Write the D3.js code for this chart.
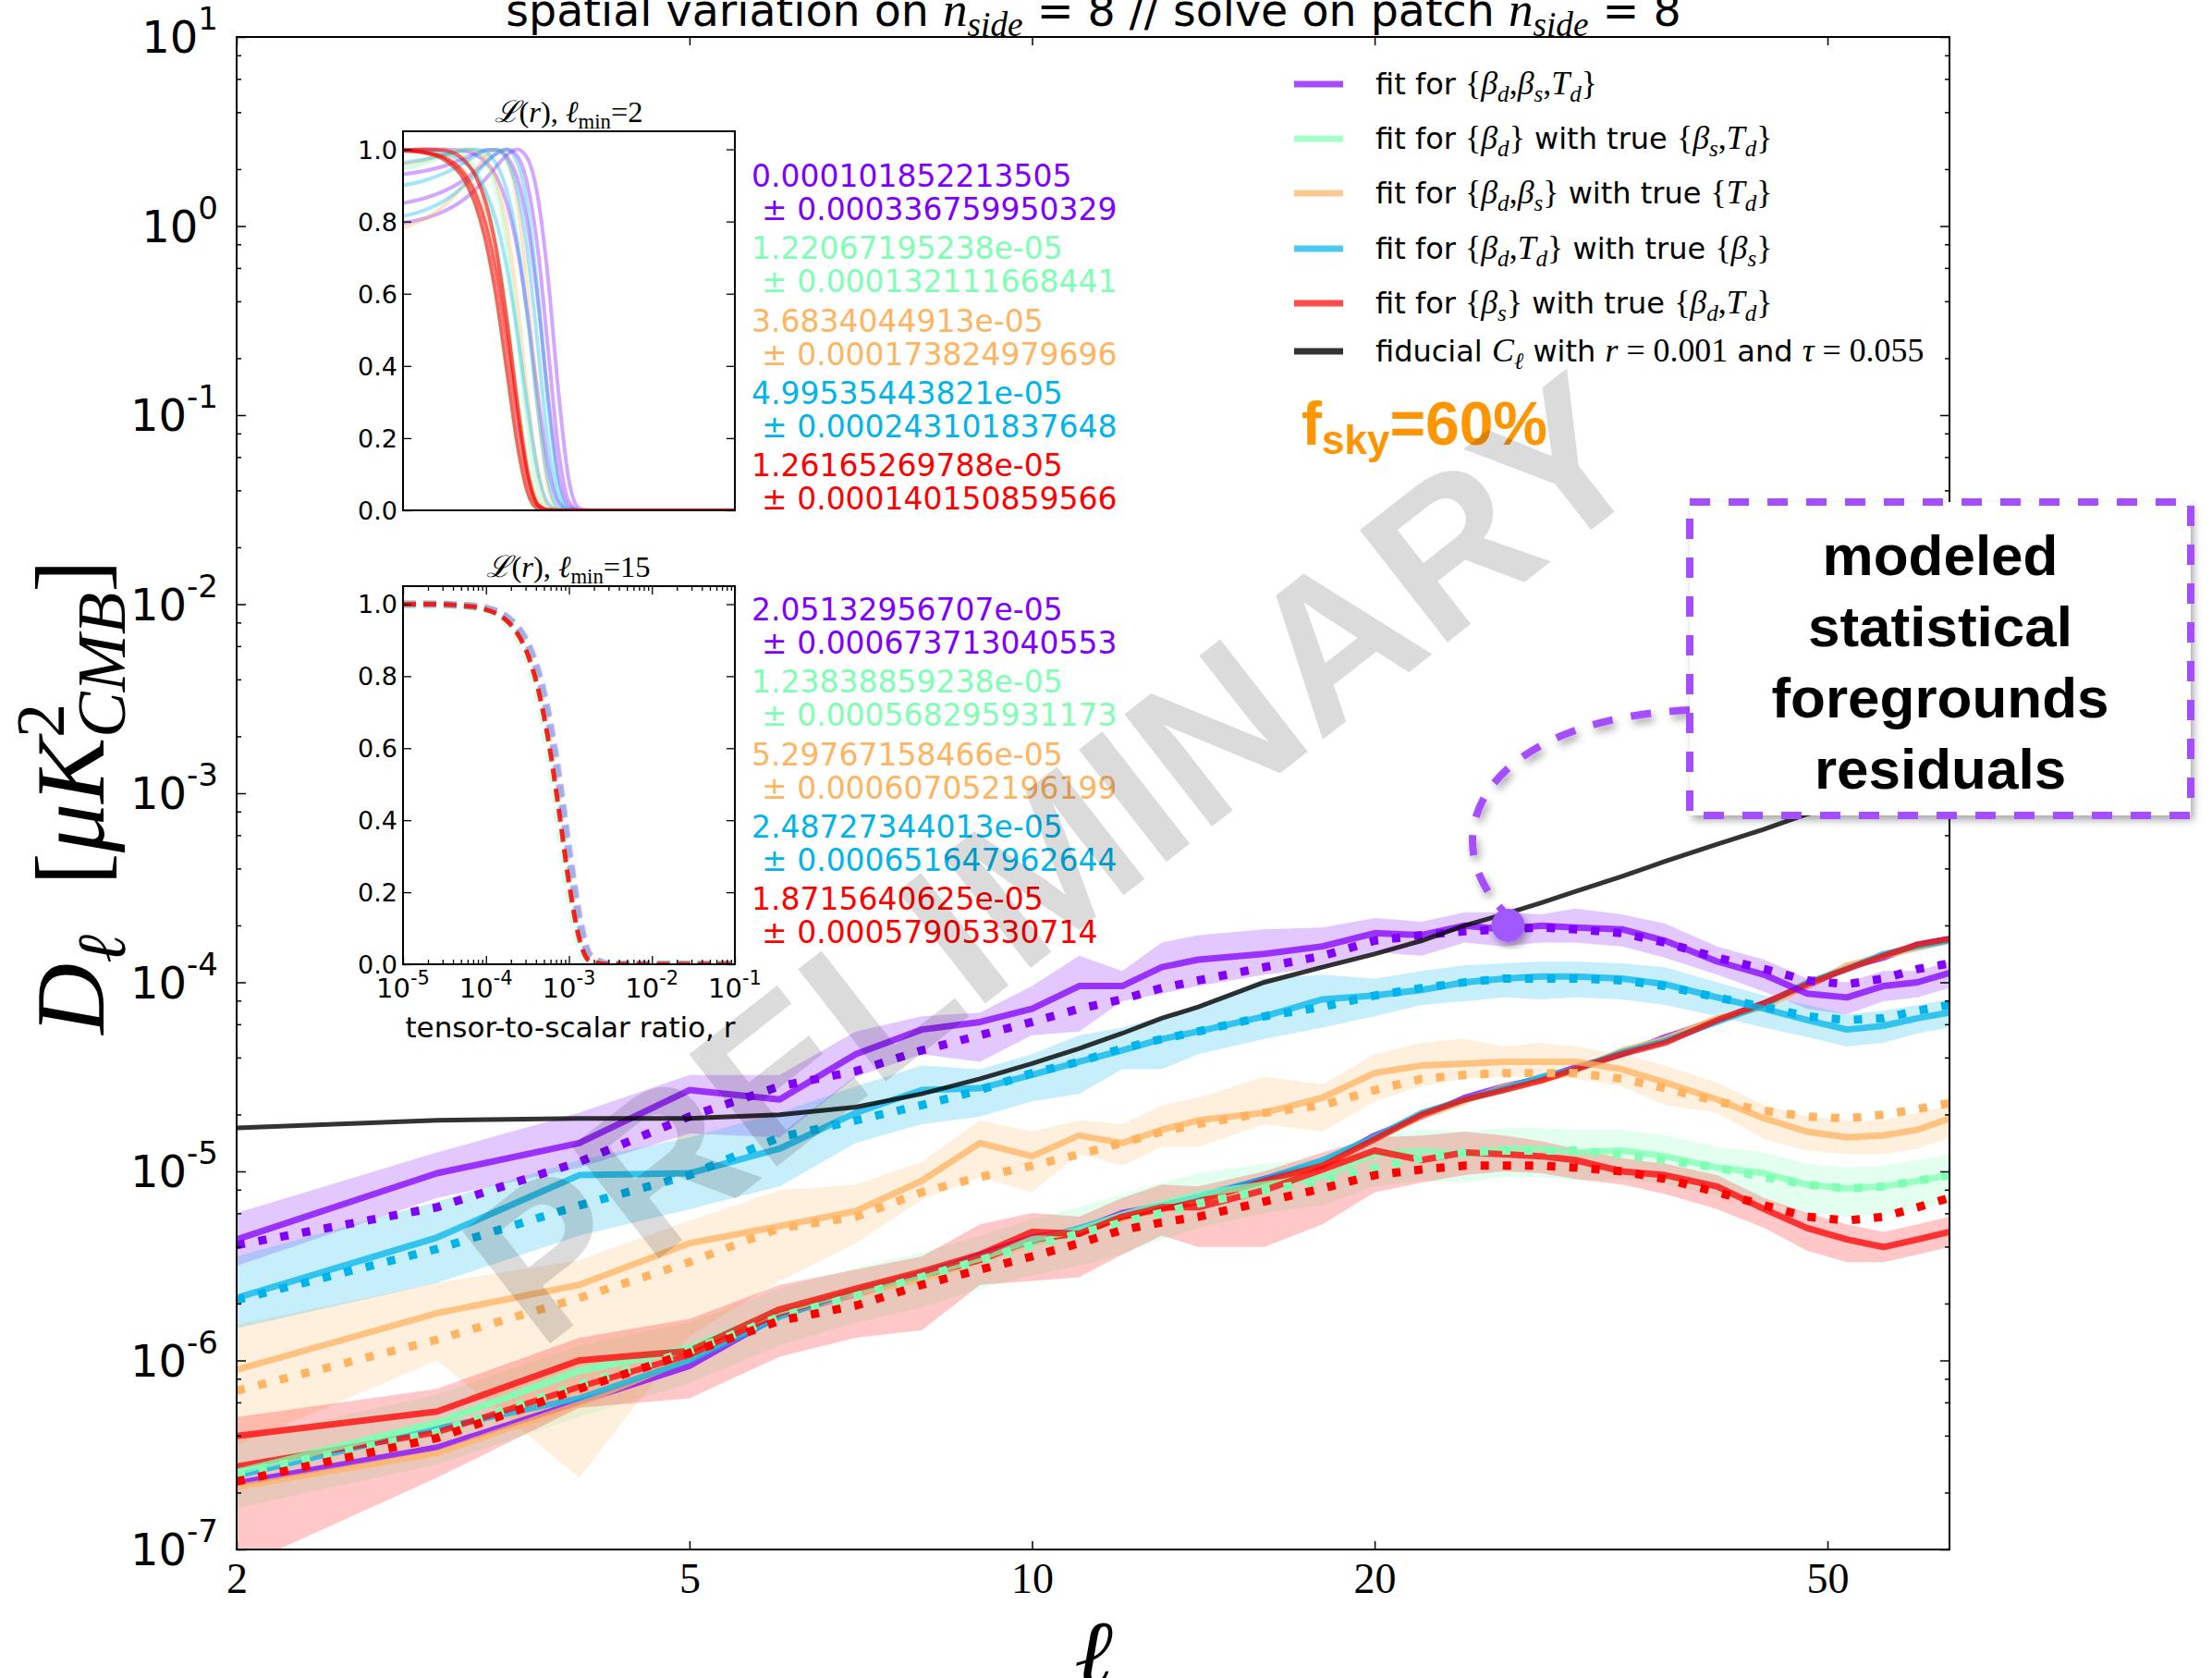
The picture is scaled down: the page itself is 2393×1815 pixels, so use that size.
<!DOCTYPE html>
<html lang="en">
<head>
<meta charset="utf-8">
<title>Foreground residuals, nside 8</title>
<script src="https://d3js.org/d3.v7.min.js"></script>
<style>
  body { margin: 0; background: #fff; }
  svg { display: block; }
  text { white-space: pre; }
</style>
</head>
<body>
<div id="chart"></div>
<script>

// ---- data: multipoles and log10(D_ell / muK^2) ----
var ells = [2,3,4,5,6,7,8,9,10,11,12,13,14,16,18,20,22,24,26,28,30,33,36,40,44,48,52,56,60,64];

var purpleResid  = [-5.36,-5.01,-4.85,-4.57,-4.62,-4.38,-4.25,-4.21,-4.14,-4.02,-4.02,-3.92,-3.88,-3.85,-3.81,-3.74,-3.75,-3.70,-3.72,-3.70,-3.71,-3.72,-3.78,-3.89,-3.96,-4.06,-4.08,-4.02,-4.00,-3.95];
var purpleModel  = [-5.39,-5.19,-4.95,-4.71,-4.55,-4.47,-4.36,-4.28,-4.21,-4.14,-4.09,-4.03,-3.99,-3.92,-3.86,-3.78,-3.75,-3.73,-3.72,-3.71,-3.72,-3.74,-3.79,-3.87,-3.93,-3.99,-4.01,-3.98,-3.93,-3.90];
var purpleHi     = [-5.22,-4.90,-4.69,-4.49,-4.49,-4.26,-4.18,-4.16,-4.02,-3.86,-3.94,-3.79,-3.75,-3.72,-3.71,-3.66,-3.68,-3.63,-3.63,-3.64,-3.61,-3.64,-3.69,-3.81,-3.88,-3.98,-4.00,-3.94,-3.94,-3.89];
var purpleLo     = [-5.50,-5.14,-4.98,-4.80,-4.82,-4.50,-4.38,-4.42,-4.28,-4.26,-4.10,-4.06,-4.02,-3.96,-3.92,-3.84,-3.86,-3.79,-3.81,-3.79,-3.79,-3.81,-3.87,-3.96,-4.05,-4.14,-4.17,-4.10,-4.08,-4.03];
var purpleBundle = [-6.65,-6.46,-6.22,-6.03,-5.76,-5.65,-5.55,-5.44,-5.35,-5.31,-5.22,-5.18,-5.14,-5.04,-4.96,-4.81,-4.71,-4.61,-4.55,-4.51,-4.45,-4.38,-4.29,-4.20,-4.11,-4.02,-3.92,-3.87,-3.80,-3.77];

var mintResid  = [-6.59,-6.33,-6.05,-5.93,-5.74,-5.63,-5.55,-5.46,-5.36,-5.31,-5.23,-5.17,-5.12,-5.07,-5.03,-4.91,-4.89,-4.91,-4.88,-4.88,-4.90,-4.89,-4.92,-4.98,-5.01,-5.07,-5.09,-5.08,-5.05,-5.02];
var mintModel  = [-6.60,-6.38,-6.13,-5.95,-5.77,-5.66,-5.56,-5.47,-5.39,-5.33,-5.27,-5.22,-5.17,-5.10,-5.05,-4.98,-4.93,-4.90,-4.89,-4.89,-4.89,-4.91,-4.94,-4.98,-5.03,-5.07,-5.09,-5.08,-5.05,-5.02];
var mintHi     = [-6.42,-6.18,-5.92,-5.80,-5.62,-5.51,-5.43,-5.34,-5.25,-5.19,-5.12,-5.06,-5.01,-4.96,-4.93,-4.79,-4.78,-4.79,-4.77,-4.77,-4.78,-4.78,-4.81,-4.87,-4.90,-4.96,-4.98,-4.97,-4.94,-4.91];
var mintLo     = [-6.78,-6.55,-6.30,-6.12,-5.92,-5.80,-5.72,-5.62,-5.55,-5.50,-5.44,-5.36,-5.30,-5.22,-5.18,-5.08,-5.05,-5.06,-5.03,-5.03,-5.05,-5.04,-5.07,-5.13,-5.16,-5.22,-5.24,-5.23,-5.20,-5.17];
var mintBundle = [-6.58,-6.33,-6.06,-5.94,-5.74,-5.64,-5.56,-5.46,-5.38,-5.33,-5.24,-5.20,-5.15,-5.06,-4.95,-4.82,-4.70,-4.62,-4.57,-4.51,-4.46,-4.37,-4.30,-4.20,-4.12,-4.01,-3.92,-3.86,-3.81,-3.78];

var orangeResid  = [-6.05,-5.75,-5.60,-5.38,-5.29,-5.21,-5.05,-4.85,-4.92,-4.81,-4.85,-4.78,-4.73,-4.69,-4.61,-4.48,-4.44,-4.43,-4.42,-4.42,-4.42,-4.46,-4.53,-4.62,-4.72,-4.79,-4.82,-4.81,-4.78,-4.72];
var orangeModel  = [-6.16,-5.89,-5.67,-5.48,-5.30,-5.24,-5.11,-5.03,-4.97,-4.91,-4.85,-4.79,-4.75,-4.69,-4.65,-4.57,-4.51,-4.49,-4.48,-4.48,-4.48,-4.51,-4.56,-4.63,-4.68,-4.71,-4.72,-4.70,-4.67,-4.64];
var orangeHi     = [-5.81,-5.59,-5.47,-5.26,-5.10,-5.07,-4.95,-4.73,-4.79,-4.73,-4.75,-4.65,-4.61,-4.50,-4.54,-4.38,-4.32,-4.30,-4.34,-4.32,-4.34,-4.38,-4.44,-4.53,-4.65,-4.71,-4.73,-4.73,-4.69,-4.65];
var orangeLo     = [-6.45,-6.00,-6.62,-5.87,-5.58,-5.38,-5.15,-5.03,-5.11,-4.91,-4.97,-4.87,-4.87,-4.75,-4.79,-4.63,-4.55,-4.51,-4.50,-4.50,-4.51,-4.55,-4.65,-4.69,-4.83,-4.89,-4.91,-4.91,-4.88,-4.82];
var orangeBundle = [-6.67,-6.49,-6.23,-5.99,-5.76,-5.65,-5.57,-5.47,-5.38,-5.32,-5.25,-5.19,-5.15,-5.06,-4.96,-4.83,-4.71,-4.63,-4.55,-4.52,-4.47,-4.36,-4.30,-4.19,-4.13,-4.02,-3.91,-3.86,-3.82,-3.78];

var blueResid  = [-5.67,-5.35,-5.02,-5.01,-4.88,-4.69,-4.57,-4.56,-4.49,-4.42,-4.36,-4.30,-4.26,-4.18,-4.09,-4.07,-4.04,-4.00,-3.98,-3.97,-3.97,-3.98,-4.01,-4.08,-4.14,-4.20,-4.25,-4.23,-4.19,-4.16];
var blueModel  = [-5.68,-5.41,-5.18,-5.02,-4.82,-4.73,-4.65,-4.57,-4.48,-4.42,-4.35,-4.30,-4.26,-4.18,-4.13,-4.07,-4.03,-4.00,-3.98,-3.98,-3.98,-3.99,-4.02,-4.08,-4.13,-4.18,-4.20,-4.19,-4.15,-4.12];
var blueHi     = [-5.45,-5.16,-4.94,-4.82,-4.69,-4.55,-4.44,-4.46,-4.38,-4.28,-4.24,-4.18,-4.12,-3.98,-3.96,-3.98,-3.94,-3.91,-3.90,-3.89,-3.89,-3.90,-3.92,-4.00,-4.07,-4.12,-4.17,-4.15,-4.12,-4.09];
var blueLo     = [-5.83,-5.59,-5.34,-5.20,-5.08,-4.85,-4.75,-4.71,-4.63,-4.59,-4.46,-4.46,-4.38,-4.30,-4.24,-4.18,-4.12,-4.10,-4.08,-4.09,-4.08,-4.09,-4.12,-4.18,-4.24,-4.29,-4.34,-4.32,-4.27,-4.24];
var blueBundle = [-6.61,-6.36,-6.20,-6.00,-5.77,-5.63,-5.54,-5.45,-5.37,-5.30,-5.23,-5.18,-5.13,-5.04,-4.94,-4.82,-4.69,-4.62,-4.56,-4.50,-4.46,-4.37,-4.31,-4.21,-4.12,-4.00,-3.93,-3.85,-3.81,-3.78];

var redResid  = [-6.40,-6.27,-6.00,-5.95,-5.73,-5.62,-5.53,-5.44,-5.32,-5.33,-5.24,-5.19,-5.19,-5.10,-4.99,-4.89,-4.94,-4.90,-4.91,-4.92,-4.94,-5.00,-5.02,-5.08,-5.20,-5.30,-5.36,-5.40,-5.36,-5.32];
var redModel  = [-6.64,-6.41,-6.15,-5.96,-5.79,-5.71,-5.60,-5.52,-5.45,-5.38,-5.31,-5.27,-5.24,-5.16,-5.09,-5.02,-4.99,-4.97,-4.97,-4.97,-4.98,-5.00,-5.04,-5.11,-5.18,-5.24,-5.26,-5.24,-5.19,-5.14];
var redHi     = [-6.30,-6.15,-5.88,-5.78,-5.60,-5.52,-5.45,-5.28,-5.22,-5.24,-5.14,-5.07,-5.08,-5.00,-4.90,-4.82,-4.81,-4.79,-4.81,-4.84,-4.88,-4.93,-4.96,-5.02,-5.14,-5.22,-5.28,-5.32,-5.28,-5.24];
var redLo     = [-7.10,-6.62,-6.25,-6.20,-5.98,-5.88,-5.84,-5.60,-5.58,-5.56,-5.44,-5.34,-5.40,-5.40,-5.28,-5.11,-5.06,-5.02,-5.00,-5.01,-5.04,-5.07,-5.12,-5.20,-5.30,-5.42,-5.48,-5.48,-5.44,-5.40];
var redBundle = [-6.56,-6.38,-6.14,-5.97,-5.75,-5.63,-5.55,-5.47,-5.36,-5.33,-5.24,-5.20,-5.16,-5.05,-4.97,-4.83,-4.70,-4.62,-4.57,-4.52,-4.46,-4.38,-4.32,-4.20,-4.11,-4.01,-3.93,-3.86,-3.80,-3.77];

// fiducial BB, r=0.001, tau=0.055
var fiducialLog = [-4.77,-4.73,-4.72,-4.72,-4.70,-4.66,-4.59,-4.51,-4.43,-4.35,-4.27,-4.19,-4.13,-4.00,-3.92,-3.85,-3.78,-3.70,-3.64,-3.58,-3.52,-3.44,-3.36,-3.27,-3.19,-3.11,-3.05,-2.99,-2.94,-2.89];

// likelihood insets: r grid and L(r) curves
var rGrid = [1e-5,1.78e-5,3.16e-5,5.62e-5,7.5e-5,1e-4,1.33e-4,1.78e-4,2.37e-4,3.16e-4,4.22e-4,5.62e-4,7.5e-4,1e-3,1.33e-3,1.78e-3,3.16e-3,1e-1];

var lmin2Purple = [
  [0.796,0.808,0.829,0.864,0.889,0.919,0.952,0.984,1.0,0.975,0.867,0.639,0.325,0.082,0.006,0,0,0],
  [0.851,0.864,0.885,0.918,0.941,0.965,0.988,1.0,0.982,0.902,0.722,0.445,0.164,0.024,0,0,0,0],
  [0.931,0.940,0.954,0.976,0.988,0.998,0.999,0.980,0.922,0.796,0.581,0.313,0.094,0.010,0,0,0,0],
  [0.997,0.999,1.0,0.995,0.985,0.964,0.925,0.851,0.728,0.546,0.321,0.123,0.022,0.001,0,0,0,0]
];
var lmin2Mint = [
  [0.989,0.996,1.0,0.981,0.946,0.874,0.748,0.549,0.309,0.106,0.015,0,0,0,0,0,0,0],
  [0.997,0.990,0.969,0.904,0.835,0.726,0.568,0.363,0.166,0.041,0.003,0,0,0,0,0,0,0],
  [0.946,0.961,0.982,1.0,0.995,0.965,0.888,0.734,0.498,0.233,0.054,0.004,0,0,0,0,0,0]
];
var lmin2Orange = [
  [0.783,0.806,0.845,0.906,0.944,0.980,1.0,0.973,0.855,0.607,0.283,0.061,0.003,0,0,0,0,0],
  [0.958,0.970,0.986,1.0,0.996,0.973,0.912,0.786,0.581,0.322,0.104,0.013,0,0,0,0,0,0],
  [0.998,0.993,0.979,0.936,0.889,0.812,0.692,0.517,0.311,0.125,0.025,0.001,0,0,0,0,0,0]
];
var lmin2Blue = [
  [0.815,0.831,0.858,0.902,0.930,0.962,0.989,0.999,0.965,0.843,0.602,0.293,0.068,0.004,0,0,0,0],
  [0.900,0.913,0.934,0.965,0.983,0.997,0.999,0.971,0.888,0.716,0.453,0.183,0.032,0.001,0,0,0,0],
  [0.963,0.972,0.985,0.998,1.0,0.991,0.960,0.886,0.750,0.535,0.278,0.082,0.008,0,0,0,0,0],
  [0.999,0.996,0.988,0.961,0.932,0.882,0.802,0.673,0.495,0.287,0.108,0.019,0.001,0,0,0,0,0]
];
var lmin2Red = [
  [0.997,0.991,0.971,0.911,0.847,0.744,0.593,0.392,0.190,0.052,0.005,0,0,0,0,0,0,0],
  [0.998,0.992,0.977,0.928,0.875,0.788,0.657,0.471,0.263,0.093,0.014,0.001,0,0,0,0,0,0],
  [0.997,1.0,0.997,0.967,0.926,0.850,0.722,0.529,0.301,0.107,0.016,0.001,0,0,0,0,0,0]
];

var lmin15Purple = [1,1,0.999,0.996,0.994,0.989,0.980,0.964,0.937,0.892,0.815,0.696,0.524,0.317,0.131,0.026,0,0];
var lmin15Mint   = [1,1,0.998,0.995,0.991,0.984,0.971,0.949,0.911,0.848,0.745,0.593,0.395,0.191,0.054,0.005,0,0];
var lmin15Orange = [1,1,0.999,0.996,0.992,0.987,0.977,0.958,0.927,0.874,0.787,0.654,0.469,0.261,0.093,0.014,0,0];
var lmin15Blue   = [1,1,0.999,0.996,0.993,0.988,0.979,0.962,0.934,0.885,0.805,0.680,0.503,0.295,0.116,0.021,0,0];
var lmin15Red    = [1,1,0.999,0.995,0.992,0.985,0.974,0.954,0.920,0.862,0.767,0.625,0.434,0.226,0.072,0.009,0,0];

var lmin2Fits  = ["0.000101852213505","1.22067195238e-05","3.6834044913e-05","4.99535443821e-05","1.26165269788e-05"];
var lmin2Errs  = ["0.000336759950329","0.000132111668441","0.000173824979696","0.000243101837648","0.000140150859566"];
var lmin15Fits = ["2.05132956707e-05","1.23838859238e-05","5.29767158466e-05","2.48727344013e-05","1.8715640625e-05"];
var lmin15Errs = ["0.000673713040553","0.000568295931173","0.000607052196199","0.000651647962644","0.00057905330714"];

// ticks
var yMajor = [1e-7,1e-6,1e-5,1e-4,1e-3,1e-2,1e-1,1,10];
var yExp = ["-7","-6","-5","-4","-3","-2","-1","0","1"];
var xTicks = [2,5,10,20,50];
var xTickLabels = ["2","5","10","20","50"];
var rTicks = [1e-5,1e-4,1e-3,1e-2,1e-1];
var rExp = ["-5","-4","-3","-2","-1"];
var LTicks = [0,0.2,0.4,0.6,0.8,1.0];
var LTickLabels = ["0.0","0.2","0.4","0.6","0.8","1.0"];

var colours = { purple: "#8000ff", mint: "#80ffb4", orange: "#ffb462", blue: "#00b4eb", red: "#ff0000" };

var series = [
  { c: colours.purple, resid: purpleResid, model: purpleModel, hi: purpleHi, lo: purpleLo, bundle: purpleBundle },
  { c: colours.mint,   resid: mintResid,   model: mintModel,   hi: mintHi,   lo: mintLo,   bundle: mintBundle },
  { c: colours.orange, resid: orangeResid, model: orangeModel, hi: orangeHi, lo: orangeLo, bundle: orangeBundle },
  { c: colours.blue,   resid: blueResid,   model: blueModel,   hi: blueHi,   lo: blueLo,   bundle: blueBundle },
  { c: colours.red,    resid: redResid,    model: redModel,    hi: redHi,    lo: redLo,    bundle: redBundle }
];
var lmin2Sets = [lmin2Purple, lmin2Mint, lmin2Orange, lmin2Blue, lmin2Red];
var lmin15Sets = [lmin15Purple, lmin15Mint, lmin15Orange, lmin15Blue, lmin15Red];

// ---- layout ----
var W = 2393, H = 1815;
var PL = 256, PR = 2109, PT = 40, PB = 1676;
var IL = 436, IR = 795;
var SANS = "'DejaVu Sans', sans-serif";
var SERIF = "'Liberation Serif', 'DejaVu Serif', serif";
var BOLD = "'Liberation Sans', Arial, sans-serif";

var svg = d3.select("#chart").append("svg").attr("width", W).attr("height", H);
var defs = svg.append("defs");
defs.append("clipPath").attr("id", "plotClip").append("rect")
  .attr("x", PL).attr("y", PT).attr("width", PR - PL).attr("height", PB - PT);
var sh = defs.append("filter").attr("id", "shadow")
  .attr("x", "-20%").attr("y", "-20%").attr("width", "140%").attr("height", "140%");
sh.append("feDropShadow").attr("dx", 3).attr("dy", 5).attr("stdDeviation", 4)
  .attr("flood-color", "#000").attr("flood-opacity", 0.35);

var x = d3.scaleLog().domain([2, 64]).range([PL, PR]);
var y = d3.scaleLog().domain([1e-7, 10]).range([PB, PT]);

function pts(logs) { return ells.map(function(l, i) { return [l, Math.pow(10, logs[i])]; }); }
var line = d3.line().x(function(d) { return x(d[0]); }).y(function(d) { return y(d[1]); });
var area = d3.area()
  .x(function(d) { return x(d.l); })
  .y0(function(d) { return y(d.lo); })
  .y1(function(d) { return y(d.hi); });

// rich text: parts = [text, font("sans"|"rm"|"it"), pos(""|"sub"|"sup"), scale]
function rich(parent, px, py, parts, size, anchor) {
  var t = parent.append("text").attr("x", px).attr("y", py).attr("font-size", size)
    .attr("text-anchor", anchor || "start").attr("fill", "#000");
  var cur = 0;
  parts.forEach(function(p) {
    var font = p[1] || "sans", pos = p[2] || "", k = p[3] || 1;
    var fs = (font === "sans" ? size : size * 1.12) * k, off = 0;
    if (pos === "sub") { fs *= 0.7; off = size * 0.24; }
    if (pos === "sup") { fs *= 0.7; off = -size * 0.45; }
    var ts = t.append("tspan").text(p[0]).attr("font-size", fs).attr("dy", off - cur);
    cur = off;
    if (font === "sans") ts.attr("font-family", SANS);
    else ts.attr("font-family", SERIF).attr("font-style", font === "it" ? "italic" : "normal");
  });
  return t;
}

// ---- main plot ----
var plot = svg.append("g").attr("clip-path", "url(#plotClip)");

series.forEach(function(s) {
  plot.append("path")
    .datum(ells.map(function(l, i) { return { l: l, lo: Math.pow(10, s.lo[i]), hi: Math.pow(10, s.hi[i]) }; }))
    .attr("d", area).attr("fill", s.c).attr("fill-opacity", 0.22);
});
series.forEach(function(s) {
  plot.append("path").datum(pts(s.bundle)).attr("d", line)
    .attr("fill", "none").attr("stroke", s.c).attr("stroke-width", 6.5)
    .attr("stroke-opacity", 0.75).attr("stroke-linejoin", "round");
});
series.forEach(function(s) {
  plot.append("path").datum(pts(s.resid)).attr("d", line)
    .attr("fill", "none").attr("stroke", s.c).attr("stroke-width", 7)
    .attr("stroke-opacity", 0.75).attr("stroke-linejoin", "round");
});
series.forEach(function(s) {
  plot.append("path").datum(pts(s.model)).attr("d", line)
    .attr("fill", "none").attr("stroke", s.c).attr("stroke-width", 9)
    .attr("stroke-dasharray", "9,15");
});
plot.append("path").datum(pts(fiducialLog)).attr("d", line)
  .attr("fill", "none").attr("stroke", "#000").attr("stroke-opacity", 0.8).attr("stroke-width", 5);

// ticks
function tickSet(axisFn, scale, vals, size, tx, ty) {
  svg.append("g").attr("transform", "translate(" + tx + "," + ty + ")")
    .call(axisFn(scale).tickValues(vals).tickSize(-size).tickFormat(""))
    .call(function(g) { g.select(".domain").remove(); })
    .selectAll("line").attr("stroke", "#000").attr("stroke-width", 1.5);
}
var yMinor = [];
yMajor.slice(0, -1).forEach(function(v) { [2, 4, 6, 8].forEach(function(m) { yMinor.push(v * m); }); });
tickSet(d3.axisLeft, y, yMajor, 10, PL, 0);
tickSet(d3.axisLeft, y, yMinor, 5, PL, 0);
tickSet(d3.axisRight, y, yMajor, 10, PR, 0);
tickSet(d3.axisRight, y, yMinor, 5, PR, 0);
tickSet(d3.axisTop, x, xTicks, 9, 0, PT);

svg.append("g").attr("transform", "translate(0," + PB + ")")
  .call(d3.axisBottom(x).tickValues(xTicks).tickSize(-9).tickPadding(14)
    .tickFormat(function(d, i) { return xTickLabels[i]; }))
  .call(function(g) { g.select(".domain").remove(); })
  .call(function(g) {
    g.selectAll("line").attr("stroke", "#000").attr("stroke-width", 1.5);
    g.selectAll("text").attr("font-family", SERIF).attr("font-size", 46).attr("fill", "#000");
  });

yMajor.forEach(function(v, i) {
  var t = svg.append("text").attr("x", 236).attr("y", y(v) + 17).attr("text-anchor", "end")
    .attr("font-family", SANS).attr("font-size", 48);
  t.append("tspan").text("10");
  t.append("tspan").text(yExp[i]).attr("font-size", 34).attr("dy", -25);
});

svg.append("rect").attr("x", PL).attr("y", PT).attr("width", PR - PL).attr("height", PB - PT)
  .attr("fill", "none").attr("stroke", "#000").attr("stroke-width", 2);

// axis labels and title
var yl = rich(svg.append("g").attr("transform", "translate(112,862) rotate(-90)"), 0, 0, [
  ["D", "it"], ["ℓ", "it", "sub"], ["  [", "rm"], ["μ", "it"], ["K", "it"],
  ["2", "rm", "sup"], ["CMB", "it", "sub"], ["]", "rm"]
], 95, "middle");
var ylSpans = yl.selectAll("tspan").nodes();
d3.select(ylSpans[6]).attr("dx", -ylSpans[5].getComputedTextLength());

svg.append("text").attr("x", 1183).attr("y", 1822).attr("text-anchor", "middle")
  .attr("font-family", SERIF).attr("font-style", "italic").attr("font-size", 100).text("ℓ");

rich(svg, 1183, 28, [
  ["spatial variation on "], ["n", "it"], ["side", "it", "sub"], [" = 8 // solve on patch "],
  ["n", "it"], ["side", "it", "sub"], [" = 8"]
], 47.5, "middle");

// legend
var legendRows = [91, 150, 209, 269, 328, 380];
var legendParts = [
  [["fit for "], ["{", "rm"], ["β", "it"], ["d", "it", "sub"], [",", "rm"], ["β", "it"], ["s", "it", "sub"], [",", "rm"], ["T", "it"], ["d", "it", "sub"], ["}", "rm"]],
  [["fit for "], ["{", "rm"], ["β", "it"], ["d", "it", "sub"], ["}", "rm"], [" with true "], ["{", "rm"], ["β", "it"], ["s", "it", "sub"], [",", "rm"], ["T", "it"], ["d", "it", "sub"], ["}", "rm"]],
  [["fit for "], ["{", "rm"], ["β", "it"], ["d", "it", "sub"], [",", "rm"], ["β", "it"], ["s", "it", "sub"], ["}", "rm"], [" with true "], ["{", "rm"], ["T", "it"], ["d", "it", "sub"], ["}", "rm"]],
  [["fit for "], ["{", "rm"], ["β", "it"], ["d", "it", "sub"], [",", "rm"], ["T", "it"], ["d", "it", "sub"], ["}", "rm"], [" with true "], ["{", "rm"], ["β", "it"], ["s", "it", "sub"], ["}", "rm"]],
  [["fit for "], ["{", "rm"], ["β", "it"], ["s", "it", "sub"], ["}", "rm"], [" with true "], ["{", "rm"], ["β", "it"], ["d", "it", "sub"], [",", "rm"], ["T", "it"], ["d", "it", "sub"], ["}", "rm"]],
  [["fiducial "], ["C", "it"], ["ℓ", "it", "sub"], [" with "], ["r", "it"], [" = 0.001", "rm"], [" and "], ["τ", "it"], [" = 0.055", "rm"]]
];
var legendColours = [colours.purple, colours.mint, colours.orange, colours.blue, colours.red, "#000"];
legendRows.forEach(function(cy, i) {
  svg.append("line").attr("x1", 1400).attr("x2", 1453).attr("y1", cy).attr("y2", cy)
    .attr("stroke", legendColours[i]).attr("stroke-width", 7).attr("stroke-opacity", i === 5 ? 0.8 : 0.7);
  rich(svg, 1488, cy + 11, legendParts[i], 32);
});

var fsky = svg.append("text").attr("x", 1408).attr("y", 481).attr("font-family", BOLD)
  .attr("font-weight", "bold").attr("font-size", 66).attr("fill", "#ff9500");
fsky.append("tspan").text("f");
fsky.append("tspan").text("sky").attr("font-size", 44).attr("dy", 10);
fsky.append("tspan").text("=60%").attr("dy", -10);

// ---- insets ----
var xr = d3.scaleLog().domain([1e-5, 1e-1]).range([IL, IR]);

function drawInset(id, top, bottom, sets, dashed, title) {
  var yl = d3.scaleLinear().domain([0, 1.05]).range([bottom, top]);
  svg.append("rect").attr("x", IL).attr("y", top).attr("width", IR - IL).attr("height", bottom - top).attr("fill", "#fff");
  defs.append("clipPath").attr("id", id).append("rect")
    .attr("x", IL).attr("y", top).attr("width", IR - IL).attr("height", bottom - top);
  var g = svg.append("g").attr("clip-path", "url(#" + id + ")");
  var lg = d3.line().x(function(d, i) { return xr(rGrid[i]); }).y(function(d) { return yl(d); })
    .curve(d3.curveMonotoneX);
  sets.forEach(function(curves, k) {
    var col = series[k].c;
    if (!dashed) {
      curves.forEach(function(c) {
        g.append("path").datum(c).attr("d", lg).attr("fill", "none").attr("stroke", col)
          .attr("stroke-width", 4).attr("stroke-opacity", k === 4 ? 0.6 : 0.35);
      });
    } else {
      g.append("path").datum(curves).attr("d", lg).attr("fill", "none").attr("stroke", col)
        .attr("stroke-width", k === 4 ? 5 : 8).attr("stroke-opacity", k === 4 ? 0.85 : 0.3)
        .attr("stroke-dasharray", "14,8");
    }
  });
  function it(axisFn, vals, size, tx, ty, scale) {
    svg.append("g").attr("transform", "translate(" + tx + "," + ty + ")")
      .call(axisFn(scale).tickValues(vals).tickSize(-size).tickFormat(""))
      .call(function(s) { s.select(".domain").remove(); })
      .selectAll("line").attr("stroke", "#000").attr("stroke-width", 1.3);
  }
  it(d3.axisLeft, LTicks, 9, IL, 0, yl);
  it(d3.axisRight, LTicks, 9, IR, 0, yl);
  if (dashed) {
    var rMinor = [];
    rTicks.slice(0, -1).forEach(function(v) { [2,3,4,5,6,7,8,9].forEach(function(m) { rMinor.push(v * m); }); });
    it(d3.axisBottom, rTicks, 9, 0, bottom, xr);
    it(d3.axisBottom, rMinor, 5, 0, bottom, xr);
    it(d3.axisTop, rTicks, 9, 0, top, xr);
    it(d3.axisTop, rMinor, 5, 0, top, xr);
    rTicks.forEach(function(v, i) {
      var t = svg.append("text").attr("x", xr(v)).attr("y", bottom + 36).attr("text-anchor", "middle")
        .attr("font-family", SANS).attr("font-size", 29);
      t.append("tspan").text("10");
      t.append("tspan").text(rExp[i]).attr("font-size", 21).attr("dy", -14);
    });
    svg.append("text").attr("x", 617).attr("y", bottom + 79).attr("text-anchor", "middle")
      .attr("font-family", SANS).attr("font-size", 31).text("tensor-to-scalar ratio, r");
  }
  LTicks.forEach(function(v, i) {
    svg.append("text").attr("x", 430).attr("y", yl(v) + 10).attr("text-anchor", "end")
      .attr("font-family", SANS).attr("font-size", 27).text(LTickLabels[i]);
  });
  svg.append("rect").attr("x", IL).attr("y", top).attr("width", IR - IL).attr("height", bottom - top)
    .attr("fill", "none").attr("stroke", "#000").attr("stroke-width", 2);
  rich(svg, 615, top - 10, [
    ["ℒ", "it"], ["(", "rm"], ["r", "it"], ["), ", "rm"], ["ℓ", "it"], ["min", "rm", "sub"], ["=" + title, "rm"]
  ], 29, "middle");
}
drawInset("clipL2", 142, 552, lmin2Sets, false, "2");
drawInset("clipL15", 634, 1043, lmin15Sets, true, "15");

function fitTexts(firstBase, fits, errs) {
  fits.forEach(function(v, i) {
    var b = firstBase + i * 78.3;
    svg.append("text").attr("x", 813).attr("y", b).attr("font-family", SANS).attr("font-size", 33)
      .attr("fill", series[i].c).text(v);
    svg.append("text").attr("x", 824).attr("y", b + 36).attr("font-family", SANS).attr("font-size", 33)
      .attr("fill", series[i].c).text("± " + errs[i]);
  });
}
fitTexts(202, lmin2Fits, lmin2Errs);
fitTexts(671, lmin15Fits, lmin15Errs);

// watermark
svg.append("text").attr("transform", "translate(1188,990) rotate(-38)")
  .attr("text-anchor", "middle").attr("font-family", BOLD).attr("font-weight", "bold")
  .attr("font-size", 224).attr("fill", "#000").attr("fill-opacity", 0.14).text("PRELIMINARY");

// ---- annotation ----
var dotX = x(26.2), dotY = y(2e-4);
svg.append("path")
  .attr("d", "M1828,768 C1610,778 1545,900 " + (dotX - 4) + "," + (dotY - 14))
  .attr("fill", "none").attr("stroke", "#a64dff").attr("stroke-width", 8)
  .attr("stroke-dasharray", "22,20").attr("filter", "url(#shadow)");
svg.append("circle").attr("cx", dotX).attr("cy", dotY).attr("r", 18)
  .attr("fill", "#a259ff").attr("filter", "url(#shadow)");

svg.append("rect").attr("x", 1828).attr("y", 543).attr("width", 542).attr("height", 339)
  .attr("fill", "#fff").attr("filter", "url(#shadow)");
svg.append("rect").attr("x", 1828).attr("y", 543).attr("width", 542).attr("height", 339)
  .attr("fill", "none").attr("stroke", "#a64dff").attr("stroke-width", 8)
  .attr("stroke-dasharray", "22,20");
["modeled", "statistical", "foregrounds", "residuals"].forEach(function(s, i) {
  svg.append("text").attr("x", 2099).attr("y", 622 + i * 77).attr("text-anchor", "middle")
    .attr("font-family", BOLD).attr("font-weight", "bold").attr("font-size", 62).text(s);
});

</script>
</body>
</html>
